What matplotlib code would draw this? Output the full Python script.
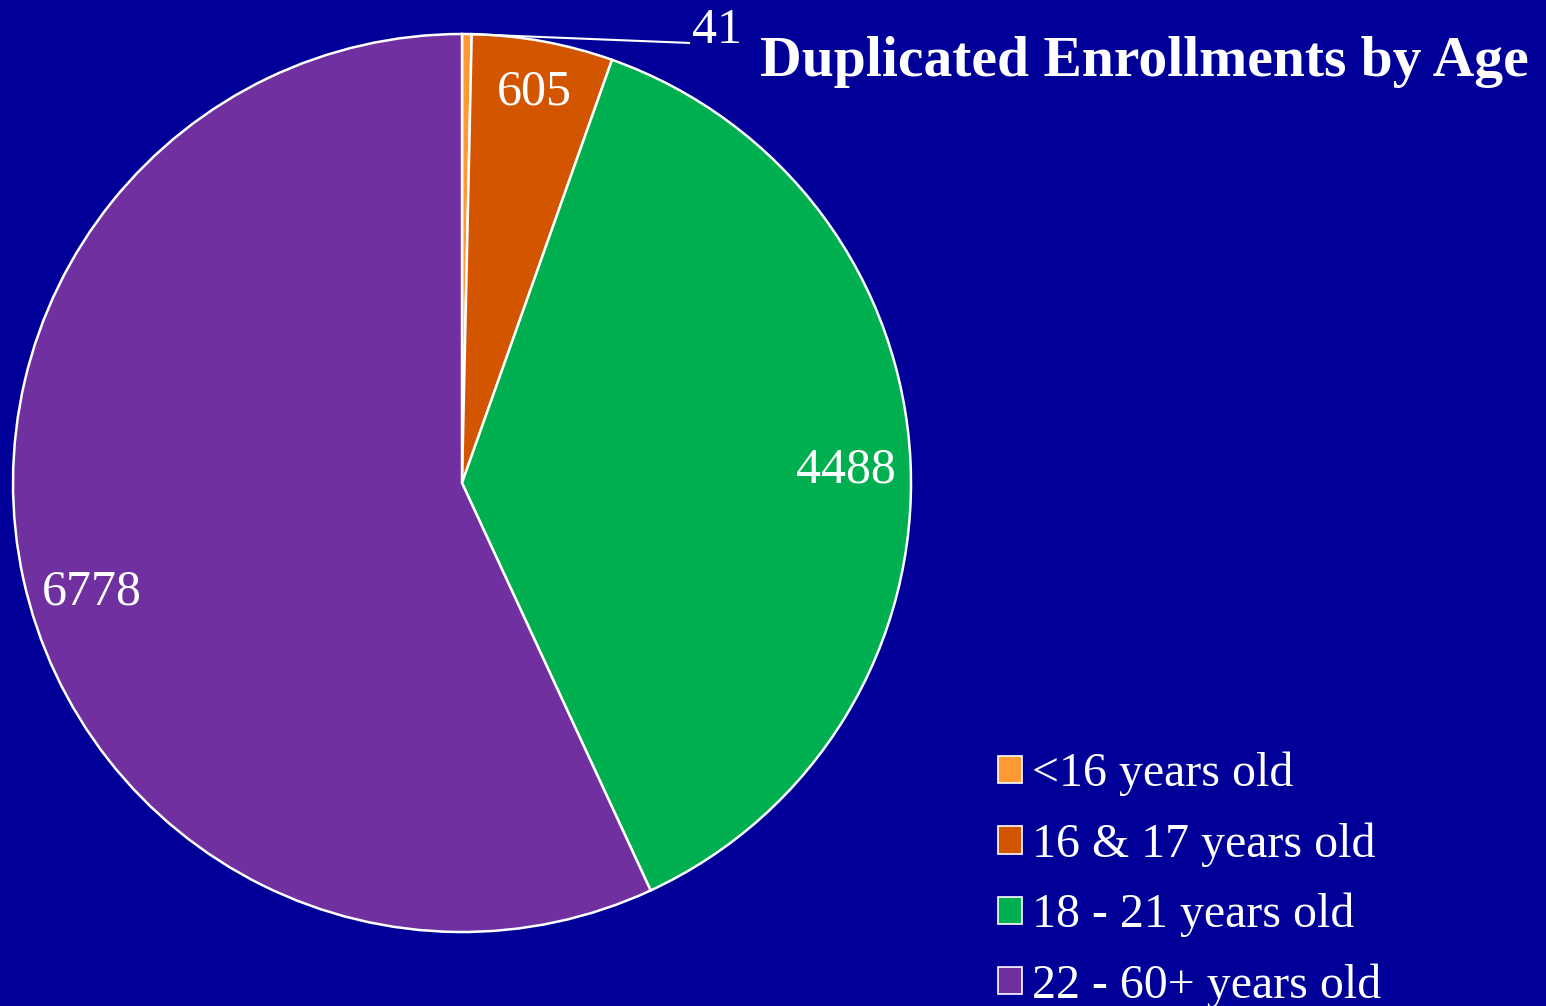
import numpy as np
import matplotlib.pyplot as plt
from matplotlib.patches import Patch

labels = ['<16 years old', '16 & 17 years old', '18 - 21 years old', '22 - 60+ years old']
values = [41, 605, 4488, 6778]
colors = ['#FF9933', '#D45500', '#00B050', '#7030A0']
title = 'Duplicated Enrollments by Age'
bg = '#000099'

plt.rcParams['font.family'] = ['Liberation Serif', 'DejaVu Serif']

fig = plt.figure(figsize=(15.46, 10.06), dpi=100, facecolor=bg)
ax = fig.add_axes([462 / 1546 - 449 / 1546, 74 / 1006, 898 / 1546, 898 / 1006])
ax.set_facecolor(bg)

wedges, _ = ax.pie(values, colors=colors, startangle=90, counterclock=False, radius=1,
                   wedgeprops=dict(edgecolor='white', linewidth=1.8))
ax.set_xlim(-1, 1)
ax.set_ylim(-1, 1)
ax.axis('off')

# value labels inside the slices (distance from centre, small angle nudge)
dist = [None, 0.89, 0.855, 0.858]
nudge = [0, 0, -0.3, 3.6]
for w, v, d, n in zip(wedges, values, dist, nudge):
    mid = np.deg2rad((w.theta1 + w.theta2) / 2 + n)
    if d is None:
        # small slice: label outside with a leader line
        ax.plot([np.cos(mid), 0.508], [np.sin(mid), 0.98], color='white', lw=1.5,
                solid_capstyle='butt', clip_on=False)
        ax.text(0.512, 0.98, str(v), fontsize=36, color='white', ha='left', va='baseline')
        continue
    ax.text(np.cos(mid) * d, np.sin(mid) * d - 0.006, str(v), fontsize=36, color='white',
            ha='center', va='center')

fig.text(760 / 1546, 1 - 76 / 1006, title, fontsize=41.5, fontweight='bold', color='white',
         ha='left', va='baseline')

handles = [Patch(facecolor=c, edgecolor='white', linewidth=1.2) for c in colors]
leg = fig.legend(handles, labels, loc='upper left', bbox_to_anchor=(998 / 1546, 1 - 752 / 1006),
                 frameon=False, fontsize=34.5, handlelength=0.5, handleheight=0.5,
                 handletextpad=0.2, labelspacing=0.54, borderpad=0, borderaxespad=0)
for t in leg.get_texts():
    t.set_color('white')

fig.savefig('out.png', dpi=100, facecolor=bg)
